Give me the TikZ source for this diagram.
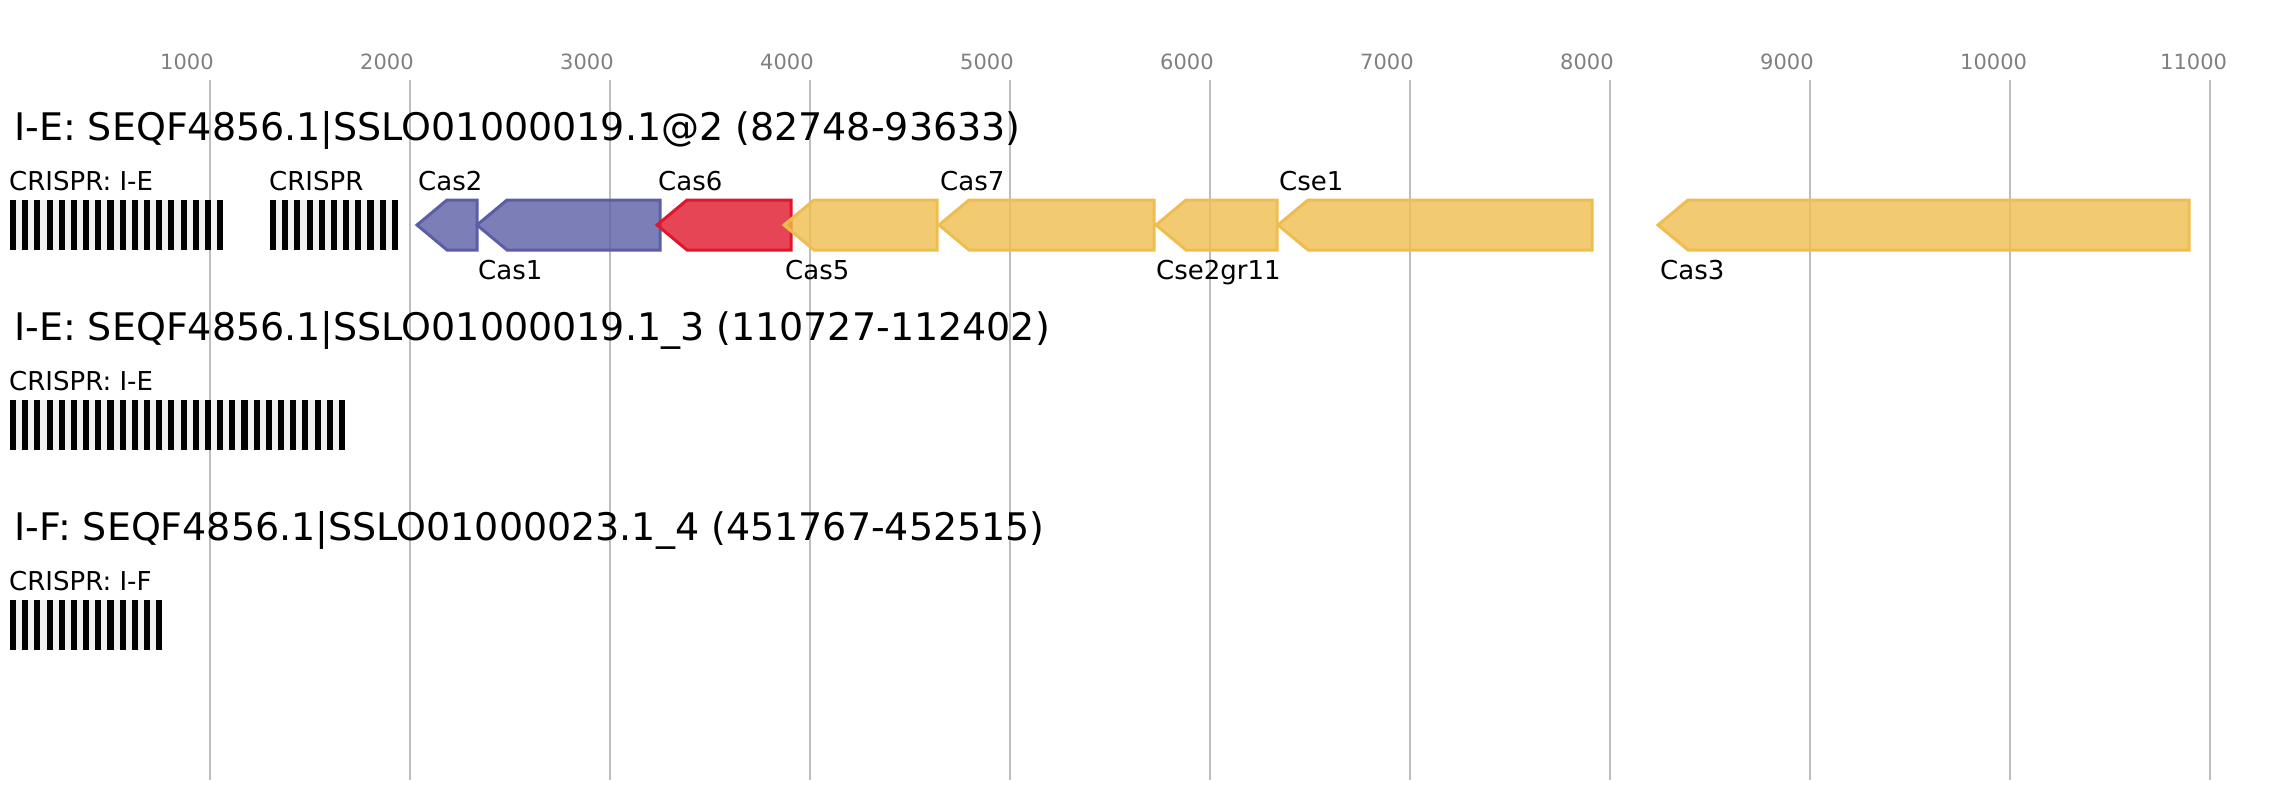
\documentclass[tikz,border=0pt]{standalone}
\usepackage{fontspec}
\setmainfont{DejaVu Sans}

\definecolor{casblue}{HTML}{5B5EA6}
\definecolor{casred}{HTML}{E0162B}
\definecolor{casyellow}{HTML}{EFBD4F}
\definecolor{gridgray}{HTML}{BEBEBE}
\definecolor{tickgray}{HTML}{808080}
\definecolor{spacergray}{HTML}{F0F0F0}

\begin{document}
\begin{tikzpicture}[x=1pt, y=-1pt,
  gridline/.style={draw=gridgray, line width=1.8pt},
  ticklabel/.style={anchor=base west, inner sep=0pt, text=tickgray, font=\fontsize{21}{25}\selectfont},
  locustitle/.style={anchor=base west, inner sep=0pt, font=\fontsize{38}{45}\selectfont},
  genelabel/.style={anchor=base west, inner sep=0pt, font=\fontsize{26}{31}\selectfont},
  gene/.style={draw=#1, fill=#1, fill opacity=0.8, draw opacity=1, line width=3pt, line join=miter},
  gene/.default=casyellow]

\path[use as bounding box] (0,0) rectangle (2277,800);

% axis
\foreach \k in {1,...,11}{
  \draw[gridline] (10+200*\k,80) -- (10+200*\k,780);
  \node[ticklabel] (tick\k) at (200*\k-40,70) {\pgfmathparse{int(1000*\k)}\pgfmathresult};
}

% crispr arrays: x, top, repeats
\newcommand{\crisprarray}[3]{%
  \fill[spacergray] (#1,#2) rectangle ++({(2*#3-1)*6.09},50);
  \foreach \i in {1,...,#3} \fill[black] ({#1+(2*\i-2)*6.09},#2) rectangle ++(6.09,50);
}

\begin{scope}
\node[locustitle] (title1) at (14,140) {I-E: SEQF4856.1|SSLO01000019.1@2 (82748-93633)};
\node[genelabel] (crispr1a) at (9,190) {CRISPR: I-E};
\node[genelabel] (crispr1b) at (269,190) {CRISPR};
\crisprarray{10}{200}{18}
\crisprarray{270}{200}{11}

\draw[gene=casblue] (417,225) -- (447,200) -- (477,200) -- (477,250) -- (447,250) -- cycle;
\draw[gene=casblue] (477,225) -- (507,200) -- (660,200) -- (660,250) -- (507,250) -- cycle;
\draw[gene=casred] (657,225) -- (687,200) -- (791,200) -- (791,250) -- (687,250) -- cycle;
\draw[gene] (784,225) -- (814,200) -- (937,200) -- (937,250) -- (814,250) -- cycle;
\draw[gene] (939,225) -- (969,200) -- (1154,200) -- (1154,250) -- (969,250) -- cycle;
\draw[gene] (1156,225) -- (1186,200) -- (1277,200) -- (1277,250) -- (1186,250) -- cycle;
\draw[gene] (1278,225) -- (1308,200) -- (1592,200) -- (1592,250) -- (1308,250) -- cycle;
\draw[gene] (1658,225) -- (1688,200) -- (2189,200) -- (2189,250) -- (1688,250) -- cycle;

\node[genelabel] (cas2) at (418,190) {Cas2};
\node[genelabel] (cas1) at (478,279) {Cas1};
\node[genelabel] (cas6) at (658,190) {Cas6};
\node[genelabel] (cas5) at (785,279) {Cas5};
\node[genelabel] (cas7) at (940,190) {Cas7};
\node[genelabel] (cse2) at (1156,279) {Cse2gr11};
\node[genelabel] (cse1) at (1279,190) {Cse1};
\node[genelabel] (cas3) at (1660,279) {Cas3};
\end{scope}

\begin{scope}
\node[locustitle] (title2) at (14,340) {I-E: SEQF4856.1|SSLO01000019.1\_3 (110727-112402)};
\node[genelabel] (crispr2) at (9,390) {CRISPR: I-E};
\crisprarray{10}{400}{28}
\end{scope}

\begin{scope}
\node[locustitle] (title3) at (14,540) {I-F: SEQF4856.1|SSLO01000023.1\_4 (451767-452515)};
\node[genelabel] (crispr3) at (9,590) {CRISPR: I-F};
\crisprarray{10}{600}{13}
\end{scope}

\end{tikzpicture}
\end{document}
